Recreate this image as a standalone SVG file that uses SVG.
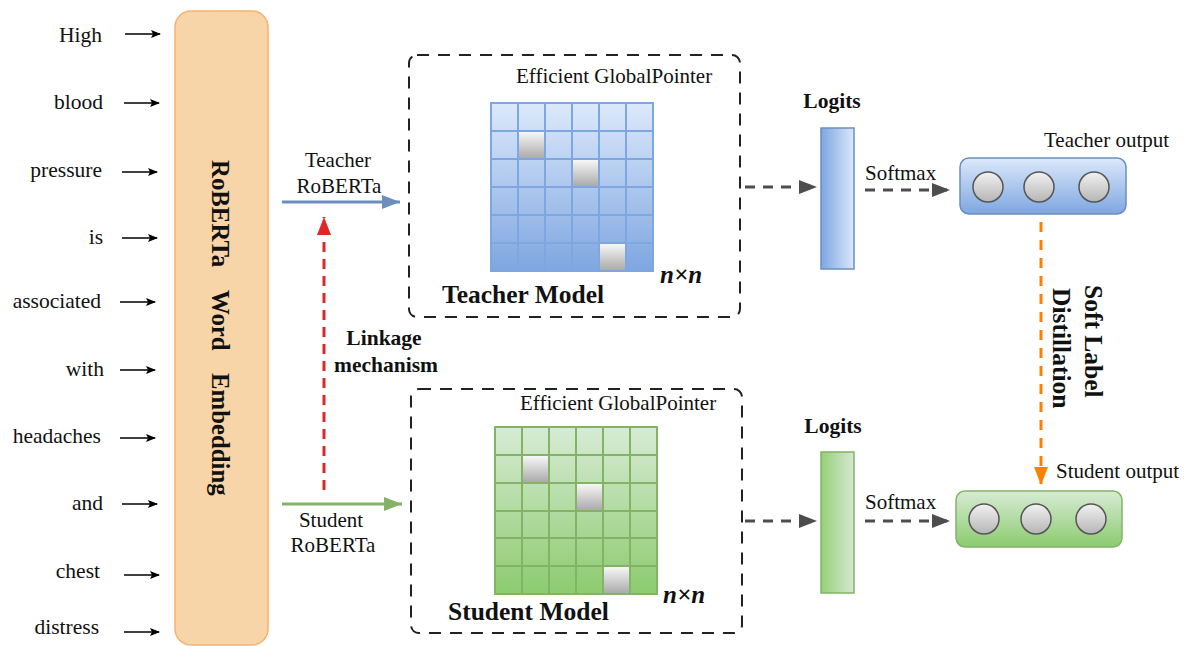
<svg xmlns="http://www.w3.org/2000/svg" width="1187" height="646" viewBox="0 0 1187 646">
<style>
.w{font-family:"Liberation Serif",serif;font-size:21.5px;fill:#111;text-anchor:end}
.t{font-family:"Liberation Serif",serif;font-size:21px;fill:#111}
.b{font-family:"Liberation Serif",serif;font-weight:bold;fill:#111}
.c{text-anchor:middle}
.wa{stroke:#000;stroke-width:1.6;fill:none}
.box{fill:none;stroke:#222;stroke-width:2;stroke-dasharray:12 9}
.gd{stroke:#4D4D4D;stroke-width:3;stroke-dasharray:10 8;fill:none}
.circ{fill:url(#gGray);stroke:#555;stroke-width:1.5}
</style>
<defs>
<linearGradient id="gBlueV" x1="0" y1="0" x2="0" y2="1"><stop offset="0" stop-color="#DCE9FB"/><stop offset="1" stop-color="#7EA6E0"/></linearGradient>
<linearGradient id="gGreenV" x1="0" y1="0" x2="0" y2="1"><stop offset="0" stop-color="#D7EBD5"/><stop offset="1" stop-color="#8CCB6E"/></linearGradient>
<linearGradient id="gBlueH" x1="0" y1="0" x2="1" y2="0"><stop offset="0" stop-color="#7EA6E0"/><stop offset="1" stop-color="#DAE8FC"/></linearGradient>
<linearGradient id="gGreenH" x1="0" y1="0" x2="1" y2="0"><stop offset="0" stop-color="#97D077"/><stop offset="1" stop-color="#D5E8D4"/></linearGradient>
<linearGradient id="gGrayCell" x1="0" y1="0" x2="0" y2="1"><stop offset="0" stop-color="#FAFAFA"/><stop offset="1" stop-color="#A8A8A8"/></linearGradient>
<linearGradient id="gGray" x1="0" y1="0" x2="0" y2="1"><stop offset="0" stop-color="#F2F2F2"/><stop offset="1" stop-color="#B5B5B5"/></linearGradient>
<marker id="mBlack" markerWidth="10" markerHeight="8" refX="9" refY="4" orient="auto" markerUnits="userSpaceOnUse"><path d="M0,0 L10,4 L0,8 L2,4 Z" fill="#000"/></marker>
<marker id="mBlue" markerWidth="18" markerHeight="14" refX="18" refY="7" orient="auto" markerUnits="userSpaceOnUse"><path d="M0,0 L18,7 L0,14 Z" fill="#6C8EBF"/></marker>
<marker id="mGreen" markerWidth="18" markerHeight="14" refX="18" refY="7" orient="auto" markerUnits="userSpaceOnUse"><path d="M0,0 L18,7 L0,14 Z" fill="#82B366"/></marker>
<marker id="mRed" markerWidth="18" markerHeight="14" refX="18" refY="7" orient="auto" markerUnits="userSpaceOnUse"><path d="M0,0 L18,7 L0,14 Z" fill="#E02626"/></marker>
<marker id="mGray" markerWidth="18" markerHeight="14" refX="18" refY="7" orient="auto" markerUnits="userSpaceOnUse"><path d="M0,0 L18,7 L0,14 Z" fill="#4D4D4D"/></marker>
<marker id="mOrange" markerWidth="18" markerHeight="14" refX="18" refY="7" orient="auto" markerUnits="userSpaceOnUse"><path d="M0,0 L18,7 L0,14 Z" fill="#FF8000"/></marker>
</defs>

<g id="words">
<text class="w" x="102" y="42">High</text>
<text class="w" x="103" y="109">blood</text>
<text class="w" x="102" y="177">pressure</text>
<text class="w" x="103" y="244">is</text>
<text class="w" x="101" y="308">associated</text>
<text class="w" x="104" y="376">with</text>
<text class="w" x="101" y="443">headaches</text>
<text class="w" x="103" y="510">and</text>
<text class="w" x="100" y="578">chest</text>
<text class="w" x="99" y="634">distress</text>
</g>

<g id="embedding">
<rect x="175" y="11" width="93" height="634" rx="16" fill="#F8D5A8" stroke="#F6B26B" stroke-width="1.5"/>
<g transform="rotate(90)" class="b" font-size="24.8">
<text x="160" y="-212">RoBERTa</text>
<text x="290" y="-212">Word</text>
<text x="373" y="-212">Embedding</text>
</g>
</g>

<g id="teacher-model">
<rect class="box" x="409" y="55" width="331" height="262" rx="8"/>
<text class="t" x="516" y="83" font-size="23">Efficient GlobalPointer</text>
<rect x="491" y="103" width="162" height="168" fill="url(#gBlueV)"/>
<rect x="518" y="131" width="27" height="28" fill="url(#gGrayCell)"/>
<rect x="572" y="159" width="27" height="28" fill="url(#gGrayCell)"/>
<rect x="599" y="243" width="27" height="28" fill="url(#gGrayCell)"/>
<path d="M491,103h162v168h-162z M518,103v168 M545,103v168 M572,103v168 M599,103v168 M626,103v168 M491,131h162 M491,159h162 M491,187h162 M491,215h162 M491,243h162" fill="none" stroke="#7EA6E0" stroke-width="2"/>
<text class="b" x="660" y="283" font-size="25" font-style="italic">n×n</text>
<text class="b" x="442" y="303" font-size="25.5">Teacher Model</text>
</g>

<g id="student-model">
<rect class="box" x="411" y="389" width="331" height="244" rx="8"/>
<text class="t" x="520" y="410" font-size="23">Efficient GlobalPointer</text>
<rect x="495" y="427" width="162" height="167" fill="url(#gGreenV)"/>
<rect x="522" y="455" width="27" height="28" fill="url(#gGrayCell)"/>
<rect x="576" y="483" width="27" height="28" fill="url(#gGrayCell)"/>
<rect x="603" y="566" width="27" height="28" fill="url(#gGrayCell)"/>
<path d="M495,427h162v167h-162z M522,427v167 M549,427v167 M576,427v167 M603,427v167 M630,427v167 M495,455h162 M495,483h162 M495,511h162 M495,538h162 M495,566h162" fill="none" stroke="#82B366" stroke-width="2"/>
<text class="b" x="663" y="603" font-size="25" font-style="italic">n×n</text>
<text class="b" x="448" y="620" font-size="25.5">Student Model</text>
</g>

<g id="teacher-logits">
<text class="b c" x="832" y="108" font-size="21.5">Logits</text>
<rect x="821" y="128" width="33" height="141" fill="url(#gBlueH)" stroke="#6C8EBF" stroke-width="1.5"/>
</g>
<g id="student-logits">
<text class="b c" x="833" y="433" font-size="21.5">Logits</text>
<rect x="821" y="452" width="33" height="141" fill="url(#gGreenH)" stroke="#82B366" stroke-width="1.5"/>
</g>

<g id="teacher-output">
<text class="t" x="1044" y="147" font-size="22.5">Teacher output</text>
<rect x="960" y="158" width="166" height="56" rx="9" fill="url(#gBlueV)" stroke="#6C8EBF" stroke-width="1.5"/>
<circle class="circ" cx="988" cy="187" r="15"/>
<circle class="circ" cx="1039" cy="187" r="15"/>
<circle class="circ" cx="1094" cy="187" r="15"/>
</g>
<g id="student-output">
<text class="t" x="1056" y="478" font-size="22.5">Student output</text>
<rect x="956" y="491" width="166" height="56" rx="9" fill="url(#gGreenV)" stroke="#82B366" stroke-width="1.5"/>
<circle class="circ" cx="984" cy="519" r="15"/>
<circle class="circ" cx="1036" cy="519" r="15"/>
<circle class="circ" cx="1091" cy="519" r="15"/>
</g>

<g id="connectors">
<line class="wa" x1="125" y1="34" x2="160" y2="34" marker-end="url(#mBlack)"/>
<line class="wa" x1="124" y1="103" x2="159" y2="103" marker-end="url(#mBlack)"/>
<line class="wa" x1="122" y1="172" x2="157" y2="172" marker-end="url(#mBlack)"/>
<line class="wa" x1="122" y1="238" x2="157" y2="238" marker-end="url(#mBlack)"/>
<line class="wa" x1="120" y1="302" x2="155" y2="302" marker-end="url(#mBlack)"/>
<line class="wa" x1="120" y1="370" x2="155" y2="370" marker-end="url(#mBlack)"/>
<line class="wa" x1="120" y1="438" x2="155" y2="438" marker-end="url(#mBlack)"/>
<line class="wa" x1="122" y1="504" x2="157" y2="504" marker-end="url(#mBlack)"/>
<line class="wa" x1="124" y1="575" x2="159" y2="575" marker-end="url(#mBlack)"/>
<line class="wa" x1="124" y1="632" x2="159" y2="632" marker-end="url(#mBlack)"/>

<line x1="282" y1="202" x2="400" y2="202" stroke="#6C8EBF" stroke-width="3" marker-end="url(#mBlue)"/>
<text class="t c" x="338" y="167" font-size="21.5">Teacher</text>
<text class="t c" x="339" y="193" font-size="21.5">RoBERTa</text>
<line x1="282" y1="504" x2="402" y2="504" stroke="#82B366" stroke-width="3" marker-end="url(#mGreen)"/>
<text class="t c" x="331" y="527" font-size="21">Student</text>
<text class="t c" x="333" y="552" font-size="21">RoBERTa</text>

<line x1="324" y1="490" x2="324" y2="217" stroke="#E02626" stroke-width="3" stroke-dasharray="10 7" marker-end="url(#mRed)"/>
<text class="b c" x="384" y="345" font-size="21.5">Linkage</text>
<text class="b c" x="386" y="372" font-size="21.5">mechanism</text>

<line class="gd" x1="745" y1="187" x2="817" y2="187" marker-end="url(#mGray)"/>
<text class="t" x="865" y="180" font-size="21.5">Softmax</text>
<line class="gd" x1="865" y1="190" x2="950" y2="190" marker-end="url(#mGray)"/>
<line class="gd" x1="745" y1="521" x2="817" y2="521" marker-end="url(#mGray)"/>
<text class="t" x="865" y="509" font-size="21.5">Softmax</text>
<line class="gd" x1="865" y1="521" x2="950" y2="521" marker-end="url(#mGray)"/>

<line x1="1041" y1="222" x2="1041" y2="485" stroke="#FF8000" stroke-width="3" stroke-dasharray="10 8" marker-end="url(#mOrange)"/>
<g transform="rotate(90)" class="b" font-size="25.5">
<text x="285" y="-1085">Soft Label</text>
<text x="288" y="-1053">Distillation</text>
</g>
</g>
</svg>
